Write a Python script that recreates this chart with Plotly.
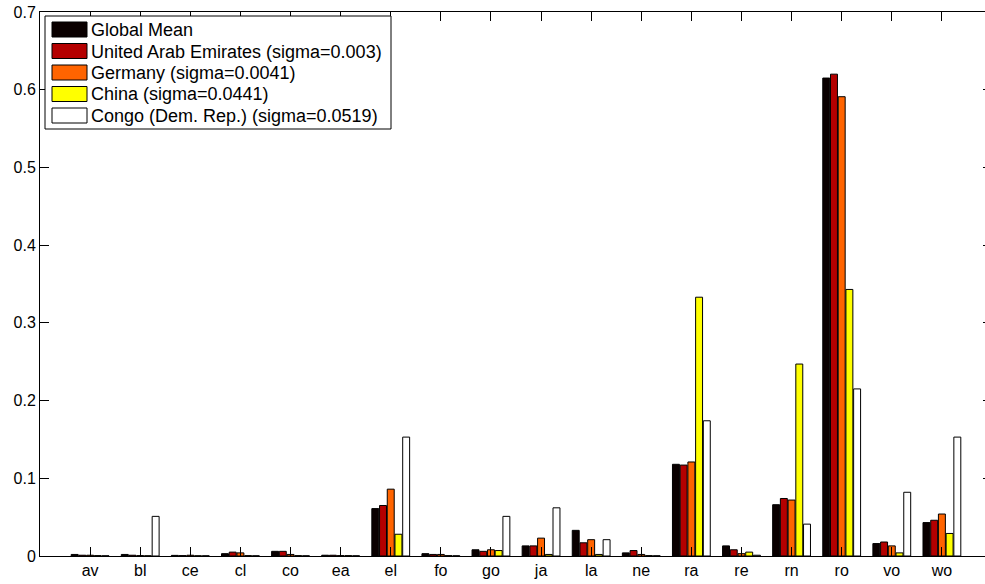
import plotly.graph_objects as go

categories = ["av", "bl", "ce", "cl", "co", "ea", "el", "fo", "go", "ja", "la", "ne",
              "ra", "re", "rn", "ro", "vo", "wo"]

global_mean = [0.002, 0.002, 0.0008, 0.003, 0.006, 0.001, 0.061, 0.003, 0.008, 0.013, 0.033, 0.004,
               0.118, 0.013, 0.066, 0.615, 0.016, 0.043]
uae = [0.001, 0.001, 0.0005, 0.005, 0.006, 0.001, 0.065, 0.002, 0.006, 0.013, 0.017, 0.007,
       0.117, 0.008, 0.074, 0.620, 0.018, 0.046]
germany = [0.001, 0.0005, 0.001, 0.004, 0.002, 0.0005, 0.086, 0.002, 0.008, 0.023, 0.021, 0.002,
           0.121, 0.003, 0.072, 0.591, 0.013, 0.054]
china = [0.0005, 0.0003, 0.0003, 0.0005, 0.0005, 0.0005, 0.028, 0.0005, 0.007, 0.002, 0.002, 0.0005,
         0.333, 0.005, 0.247, 0.343, 0.004, 0.029]
congo = [0.0003, 0.051, 0.0003, 0.0003, 0.0003, 0.0003, 0.153, 0.0003, 0.051, 0.062, 0.021, 0.0003,
         0.174, 0.001, 0.041, 0.215, 0.082, 0.153]

series_names = ["Global Mean", "United Arab Emirates (sigma=0.003)", "Germany (sigma=0.0041)",
                "China (sigma=0.0441)", "Congo (Dem. Rep.) (sigma=0.0519)"]
series_values = [global_mean, uae, germany, china, congo]
series_colors = ["#0a0000", "#b40000", "#ff6400", "#ffff00", "#ffffff"]

y_ticks = [0, 0.1, 0.2, 0.3, 0.4, 0.5, 0.6, 0.7]

# the reference is cropped on the right: the plot box ends just past the window edge
W, H = 993, 584
L, R, T, B = 40, 1, 12, 28
plot_w = W - L - R
plot_h = H - T - B


def px_x(px):
    return (px - L) / plot_w


def px_y(py):
    return (T + plot_h - py) / plot_h


fig = go.Figure()
for name, vals, col in zip(series_names, series_values, series_colors):
    fig.add_trace(go.Bar(
        x=categories, y=vals, name=name, showlegend=False,
        marker=dict(color=col, line=dict(color="#000000", width=1)),
    ))

font_family = "Liberation Sans, Arial, Helvetica, sans-serif"

# custom legend (box, wide swatches, texts) to mimic the MATLAB-style legend
shapes = [dict(type="rect", xref="paper", yref="paper",
               x0=px_x(45), x1=px_x(391), y0=px_y(129), y1=px_y(16),
               line=dict(color="black", width=1), fillcolor="white", layer="above")]
annotations = []
row_tops = [22, 43.5, 65, 86.5, 108]
for name, col, top in zip(series_names, series_colors, row_tops):
    shapes.append(dict(type="rect", xref="paper", yref="paper",
                       x0=px_x(52), x1=px_x(87), y0=px_y(top + 15), y1=px_y(top),
                       line=dict(color="black", width=1), fillcolor=col, layer="above"))
    annotations.append(dict(xref="paper", yref="paper", x=px_x(89), y=px_y(top + 8),
                            xanchor="left", yanchor="middle", text=name, showarrow=False,
                            font=dict(size=18, family=font_family, color="black")))

fig.update_layout(
    width=W, height=H,
    margin=dict(l=L, r=R, t=T, b=B),
    paper_bgcolor="white", plot_bgcolor="white",
    barmode="group", bargap=0.23, bargroupgap=0.1,
    font=dict(family=font_family, size=16, color="black"),
    showlegend=False,
    shapes=shapes, annotations=annotations,
    xaxis=dict(
        range=[-1, 18], showline=True, linecolor="black", linewidth=1,
        mirror="ticks", ticks="inside", ticklen=9, tickcolor="black",
        showgrid=False, zeroline=False, tickfont=dict(size=16),
    ),
    yaxis=dict(
        range=[0, 0.7], tickvals=y_ticks, ticktext=[("%g" % v) for v in y_ticks],
        showline=True, linecolor="black", linewidth=1,
        mirror="ticks", ticks="inside", ticklen=9, tickcolor="black",
        showgrid=False, zeroline=False, tickfont=dict(size=16),
        ticklabeloverflow="allow",
    ),
)

fig.write_html("out.html",
               config={"displayModeBar": False},
               post_script="document.body.style.margin='0px'; document.body.style.overflow='hidden';")
